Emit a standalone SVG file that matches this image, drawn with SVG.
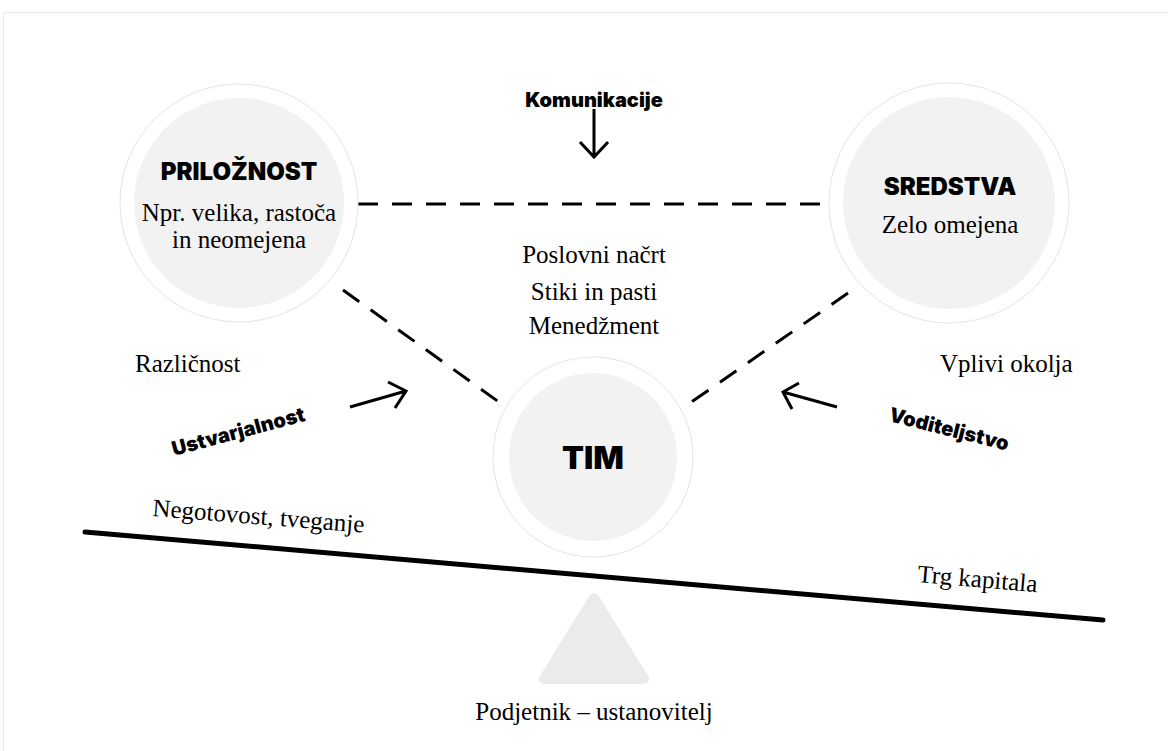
<svg xmlns="http://www.w3.org/2000/svg" width="1168" height="751" viewBox="0 0 1168 751">
  <defs>
    <style>
      .frame { fill: #ffffff; stroke: #ececec; stroke-width: 1.5; }
      .halo { fill: #ffffff; stroke: #e4e4e4; stroke-width: 1; }
      .core { fill: #f2f2f2; }
      .head { font-family: Inter, "Noto Sans", "Liberation Sans", sans-serif; font-weight: 900; fill: #000; text-anchor: middle; }
      .tag { font-family: Inter, "Noto Sans", "Liberation Sans", sans-serif; font-weight: 900; fill: #000; font-size: 20px; }
      .body { font-family: "Liberation Serif", "DejaVu Serif", serif; font-size: 25px; fill: #000; }
      .mid { text-anchor: middle; }
      .dash { fill: none; stroke: #000; stroke-width: 3; stroke-dasharray: 20 14; }
      .arrow { fill: none; stroke: #000; stroke-width: 3; stroke-linecap: butt; stroke-linejoin: miter; }
      .lever { fill: none; stroke: #000; stroke-width: 5; stroke-linecap: round; }
      .pivot { fill: #ebebeb; stroke: #ebebeb; stroke-width: 10; stroke-linejoin: round; }
    </style>
  </defs>

  <rect class="frame" x="3.5" y="12.5" width="1180" height="760"/>

  <!-- dashed links between the three circles -->
  <g id="connectors">
    <line class="dash" x1="358" y1="204" x2="830" y2="204"/>
    <line class="dash" x1="343" y1="290" x2="510" y2="410"/>
    <line class="dash" x1="848" y1="293" x2="680" y2="410"/>
  </g>

  <g id="priloznost">
    <circle class="halo" cx="239" cy="203" r="119"/>
    <circle class="core" cx="239" cy="203" r="105"/>
    <text class="head" x="239" y="180" font-size="24">PRILOŽNOST</text>
    <text class="body mid" x="239" y="221">Npr. velika, rastoča</text>
    <text class="body mid" x="239" y="248">in neomejena</text>
  </g>

  <g id="sredstva">
    <circle class="halo" cx="949" cy="203" r="120"/>
    <circle class="core" cx="949" cy="203" r="106"/>
    <text class="head" x="950" y="195" font-size="24">SREDSTVA</text>
    <text class="body mid" x="950" y="233">Zelo omejena</text>
  </g>

  <g id="tim">
    <circle class="halo" cx="593" cy="457" r="100"/>
    <circle class="core" cx="593" cy="457" r="84"/>
    <text class="head" x="593" y="469" font-size="32">TIM</text>
  </g>

  <g id="komunikacije">
    <text class="tag" x="594" y="107" text-anchor="middle">Komunikacije</text>
    <path class="arrow" d="M594 109 V157 M580 142 L594 157 L608 142"/>
  </g>

  <g id="naloge">
    <text class="body mid" x="594" y="263">Poslovni načrt</text>
    <text class="body mid" x="594" y="300">Stiki in pasti</text>
    <text class="body mid" x="594" y="334">Menedžment</text>
  </g>

  <g id="razlicnost">
    <text class="body" x="135" y="372">Različnost</text>
  </g>

  <g id="vplivi">
    <text class="body" x="940" y="372">Vplivi okolja</text>
  </g>

  <g id="ustvarjalnost">
    <path class="arrow" d="M350 407 L406 391 M388 382 L406 391 L395 408"/>
    <text class="tag" transform="translate(174 456) rotate(-15)">Ustvarjalnost</text>
  </g>

  <g id="voditeljstvo">
    <path class="arrow" d="M837 407 L783 392 M799 383 L783 392 L792 409"/>
    <text class="tag" transform="translate(888 421) rotate(14)">Voditeljstvo</text>
  </g>

  <g id="tehtnica">
    <line class="lever" x1="85" y1="532" x2="1103" y2="620"/>
    <text class="body" transform="translate(152 516) rotate(4.5)">Negotovost, tveganje</text>
    <text class="body" transform="translate(917 582) rotate(4.9)">Trg kapitala</text>
  </g>

  <g id="podjetnik">
    <polygon class="pivot" points="594,598 544,679 644,679"/>
    <text class="body mid" x="594" y="720">Podjetnik – ustanovitelj</text>
  </g>
</svg>
